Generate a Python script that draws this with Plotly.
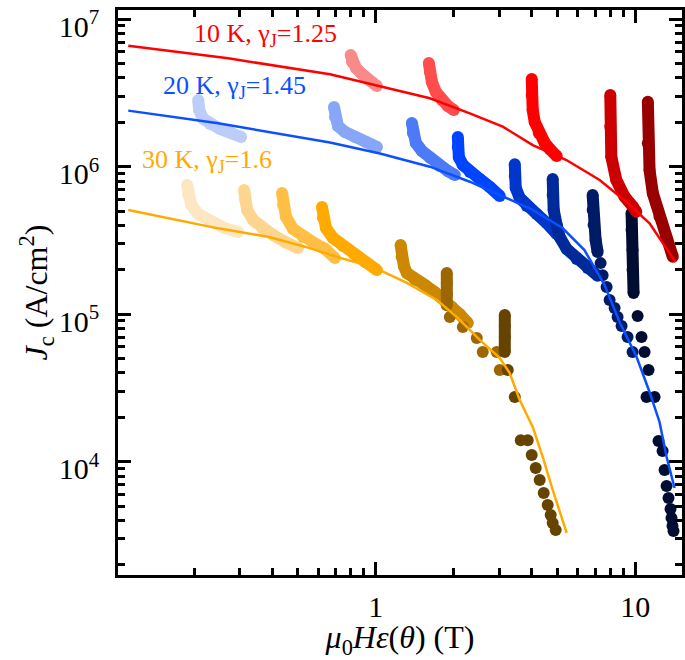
import plotly.graph_objects as go

# ---------------- fit curves ----------------
fit10_x = [0.1115, 0.2704, 0.667, 1.039, 1.618, 2.305, 3.087, 4.027, 5.43, 7.29, 9.23, 11.35, 12.73, 14.29]
fit10_y = [6.61e6, 5.43e6, 4.23e6, 3.49e6, 2.91e6, 2.30e6, 1.87e6, 1.40e6, 1.11e6, 8.12e5, 5.79e5, 4.13e5, 3.09e5, 2.26e5]

fit20_x = [0.1115, 0.2474, 0.667, 1.039, 1.618, 2.305, 3.007, 4.027, 5.245, 6.37, 7.61, 8.70, 10.12, 11.35, 12.40, 13.20, 14.17]
fit20_y = [2.40e6, 1.97e6, 1.46e6, 1.23e6, 1.00e6, 7.91e5, 6.43e5, 5.09e5, 3.84e5, 2.72e5, 1.58e5, 8.85e4, 5.13e4, 2.97e4, 1.86e4, 1.08e4, 6.63e3]

fit30_x = [0.1115, 0.2474, 0.3853, 0.5347, 0.7355, 0.9764, 1.319, 1.721, 2.073, 2.518, 3.007, 3.285, 3.589, 4.027, 4.401, 4.808, 5.443]
fit30_y = [5.09e5, 3.82e5, 3.35e5, 2.87e5, 2.40e5, 2.09e5, 1.63e5, 1.25e5, 9.42e4, 6.69e4, 5.05e4, 3.99e4, 2.62e4, 1.72e4, 1.08e4, 6.43e3, 3.29e3]

# ---------------- 10 K data ----------------
r1_x = [0.8014, 0.8107, 0.8398, 0.8859, 0.9423, 1.0116]
r1_y = [5.72e6, 5.13e6, 4.67e6, 4.25e6, 3.87e6, 3.52e6]
r2_x = [1.603, 1.618, 1.647, 1.706, 1.799, 1.897, 2.001]
r2_y = [5.05e6, 4.39e6, 3.75e6, 3.21e6, 2.83e6, 2.58e6, 2.42e6]
r3_x = [3.992, 3.992, 4.027, 4.100, 4.248, 4.479, 4.681, 4.981]
r3_y = [3.93e6, 3.06e6, 2.42e6, 2.01e6, 1.69e6, 1.45e6, 1.32e6, 1.18e6]
r4_x = [8.013, 8.013, 8.085, 8.45, 9.095, 9.79, 10.09]
r4_y = [3.06e6, 1.87e6, 1.17e6, 8.12e5, 6.26e5, 5.36e5, 4.95e5]
r5_x = [11.18, 11.18, 11.35, 11.69, 12.40, 13.16, 13.95]
r5_y = [2.76e6, 1.44e6, 9.50e5, 6.60e5, 4.58e5, 3.35e5, 2.45e5]

# ---------------- 20 K data ----------------
b1_x = [0.2073, 0.2091, 0.2167, 0.2305, 0.2519, 0.2777, 0.3034]
b1_y = [2.83e6, 2.42e6, 2.11e6, 1.95e6, 1.80e6, 1.69e6, 1.59e6]
b2_x = [0.6913, 0.6974, 0.7161, 0.7619, 0.8326, 0.9177, 1.0116]
b2_y = [2.54e6, 2.17e6, 1.89e6, 1.72e6, 1.59e6, 1.47e6, 1.36e6]
b3_x = [1.379, 1.391, 1.429, 1.507, 1.618, 1.767, 1.897, 2.018]
b3_y = [1.98e6, 1.69e6, 1.45e6, 1.28e6, 1.15e6, 1.01e6, 9.35e5, 8.78e5]
b4_x = [2.073, 2.073, 2.092, 2.167, 2.305, 2.518, 2.752, 3.007]
b4_y = [1.59e6, 1.36e6, 1.16e6, 1.03e6, 9.21e5, 8.25e5, 7.29e5, 6.33e5]
b5_x = [3.435, 3.435, 3.465, 3.589, 3.819, 4.173, 4.559, 4.981]
b5_y = [1.04e6, 8.65e5, 7.17e5, 6.14e5, 5.42e5, 4.78e5, 4.15e5, 3.50e5]
b6_x = [4.808, 4.808, 4.851, 4.981, 5.115, 5.443, 5.946, 6.553, 7.161]
b6_y = [8.25e5, 6.43e5, 5.09e5, 4.02e5, 3.34e5, 2.77e5, 2.37e5, 2.06e5, 1.82e5]
b7_x = [6.853, 6.853, 6.913, 7.036, 7.161]
b7_y = [6.43e5, 5.09e5, 4.02e5, 3.18e5, 2.64e5]
b7_dot_x = [7.353, 7.484, 7.755, 7.964, 8.325, 8.549, 8.858, 9.341, 9.763]
b7_dot_y = [2.22e5, 1.84e5, 1.53e5, 1.25e5, 1.10e5, 9.57e4, 8.32e4, 7.01e4, 5.54e4]
b8_x = [9.678, 9.678, 9.763, 9.763, 9.851]
b8_y = [4.85e5, 3.72e5, 2.72e5, 1.99e5, 1.39e5]
b8_dot_x = [10.21, 10.57, 10.86, 11.25, 11.05, 11.87, 12.29, 12.74, 12.97, 13.20, 13.43, 13.67, 13.79, 13.91, 14.04]
b8_dot_y = [9.72e4, 7.01e4, 5.54e4, 4.19e4, 2.75e4, 2.75e4, 1.38e4, 1.18e4, 8.78e3, 6.84e3, 5.67e3, 4.78e3, 4.15e3, 3.66e3, 3.39e3]

# ---------------- 30 K data ----------------
o1_x = [0.188, 0.1897, 0.1949, 0.2073, 0.2305, 0.2610, 0.2954]
o1_y = [7.51e5, 6.43e5, 5.50e5, 4.78e5, 4.28e5, 3.84e5, 3.61e5]
o2_x = [0.3115, 0.3143, 0.3199, 0.3374, 0.3653, 0.4027, 0.4478, 0.5026]
o2_y = [6.95e5, 5.95e5, 5.09e5, 4.35e5, 3.84e5, 3.44e5, 3.09e5, 2.81e5]
o3_x = [0.4362, 0.4401, 0.4519, 0.4808, 0.5253, 0.5790, 0.6383, 0.6974]
o3_y = [6.63e5, 5.50e5, 4.56e5, 3.78e5, 3.34e5, 3.04e5, 2.77e5, 2.40e5]
o4_x = [0.6216, 0.6271, 0.6439, 0.6851, 0.7485, 0.8251, 0.9096, 1.0116]
o4_y = [5.33e5, 4.49e5, 3.84e5, 3.29e5, 2.90e5, 2.56e5, 2.26e5, 1.99e5]
o5_x = [1.248, 1.259, 1.285, 1.319, 1.416, 1.548, 1.691, 1.831, 1.966, 2.110, 2.265]
o5_y = [2.95e5, 2.44e5, 2.12e5, 1.90e5, 1.71e5, 1.58e5, 1.41e5, 1.27e5, 1.12e5, 1.00e5, 8.71e4]
o6_x = [1.880, 1.880, 1.880, 1.880]
o6_y = [1.90e5, 1.63e5, 1.37e5, 1.15e5]
o6_dot_x = [1.931, 2.167, 2.452, 2.586, 2.927, 3.007]
o6_dot_y = [9.57e4, 8.19e4, 6.90e4, 5.54e4, 5.54e4, 4.19e4]
o7_x = [3.144, 3.144, 3.144, 3.144]
o7_y = [9.88e4, 8.32e4, 7.01e4, 5.54e4]
o7_dot_x = [3.228, 3.435, 3.622, 3.852, 3.992, 4.136, 4.284, 4.440, 4.599, 4.723, 4.808, 4.937]
o7_dot_y = [4.19e4, 2.75e4, 1.40e4, 1.40e4, 1.11e4, 9.06e3, 7.51e3, 6.13e3, 5.09e3, 4.35e3, 3.84e3, 3.44e3]

# tick labels
y_tickvals = [1e4, 1e5, 1e6, 1e7]
y_ticktext = ["10<sup>4</sup>", "10<sup>5</sup>", "10<sup>6</sup>", "10<sup>7</sup>"]
x_tickvals = [1, 10]
x_ticktext = ["1", "10"]

FONT = "Liberation Serif"
MS = 12

fig = go.Figure()


def seg(x, y, color):
    fig.add_trace(go.Scatter(x=x, y=y, mode="lines+markers",
                             line=dict(color=color, width=MS),
                             marker=dict(color=color, size=MS),
                             showlegend=False, hoverinfo="skip"))


def dots(x, y, color):
    fig.add_trace(go.Scatter(x=x, y=y, mode="markers",
                             marker=dict(color=color, size=MS),
                             showlegend=False, hoverinfo="skip"))


# 30 K
seg(o1_x, o1_y, "#fde6c2")
seg(o2_x, o2_y, "#fed58e")
seg(o3_x, o3_y, "#ffbf44")
seg(o4_x, o4_y, "#ffaa00")
seg(o5_x, o5_y, "#cc8800")
seg(o6_x, o6_y, "#9c6600")
dots(o6_dot_x, o6_dot_y, "#9c6600")
seg(o7_x, o7_y, "#664400")
dots(o7_dot_x, o7_dot_y, "#664400")

# 20 K
seg(b1_x, b1_y, "#bccdf8")
seg(b2_x, b2_y, "#88a6f6")
seg(b3_x, b3_y, "#4d7bf7")
seg(b4_x, b4_y, "#0044ff")
seg(b5_x, b5_y, "#0036cc")
seg(b6_x, b6_y, "#002a99")
seg(b7_x, b7_y, "#001b66")
dots(b7_dot_x, b7_dot_y, "#001b66")
seg(b8_x, b8_y, "#000d33")
dots(b8_dot_x, b8_dot_y, "#000d33")

# 10 K
seg(r1_x, r1_y, "#f98a8a")
seg(r2_x, r2_y, "#ff4d4d")
seg(r3_x, r3_y, "#ff0000")
seg(r4_x, r4_y, "#cc0000")
seg(r5_x, r5_y, "#990000")

# fit lines on top
for fx, fy, c in [(fit10_x, fit10_y, "#ff0000"), (fit20_x, fit20_y, "#0a50ff"), (fit30_x, fit30_y, "#ffaa00")]:
    fig.add_trace(go.Scatter(x=fx, y=fy, mode="lines", line=dict(color=c, width=2.5),
                             showlegend=False, hoverinfo="skip"))

minor_y = [m * 10 ** e for e in range(3, 7) for m in range(2, 10)]
minor_x = [m * 10 ** e for e in range(-1, 2) for m in range(2, 10)]

axis_common = dict(showline=True, linecolor="black", linewidth=2.5, mirror="ticks",
                   ticks="inside", ticklen=13, tickwidth=2.5, tickcolor="black",
                   showgrid=False, zeroline=False, automargin=False,
                   ticklabeloverflow="allow",
                   tickfont=dict(family=FONT, size=30, color="black"))

fig.update_xaxes(type="log", range=[-0.9923, 1.18], tickvals=x_tickvals, ticktext=x_ticktext,
                 minor=dict(tickvals=minor_x, ticks="inside", ticklen=7, tickwidth=2.5,
                            tickcolor="black", showgrid=False),
                 ticklabelstandoff=3,
                 title=dict(text="<i>μ</i><sub>0</sub><i>Hε</i>(<i>θ</i>) (T)",
                            font=dict(family=FONT, size=32, color="black"), standoff=3),
                 **axis_common)
fig.update_yaxes(type="log", range=[3.2319, 7.0624], tickvals=y_tickvals, ticktext=y_ticktext,
                 minor=dict(tickvals=minor_y, ticks="inside", ticklen=7, tickwidth=2.5,
                            tickcolor="black", showgrid=False),
                 ticklabelstandoff=10, ticklabelshift=7,
                 title=dict(text="<i>J</i><sub>c</sub> (A/cm<sup>2</sup>)",
                            font=dict(family=FONT, size=32, color="black"), standoff=0),
                 **axis_common)

ann_font = lambda c: dict(family=FONT, size=26, color=c)
fig.add_annotation(x=0.1307, y=0.955, xref="paper", yref="paper", xanchor="left", yanchor="middle",
                   text="10 K, γ<sub>J</sub>=1.25", showarrow=False, font=ann_font("#ff0000"))
fig.add_annotation(x=0.0762, y=0.8646, xref="paper", yref="paper", xanchor="left", yanchor="middle",
                   text="20 K, γ<sub>J</sub>=1.45", showarrow=False, font=ann_font("#0a50ff"))
fig.add_annotation(x=0.0385, y=0.7331, xref="paper", yref="paper", xanchor="left", yanchor="middle",
                   text="30 K, γ<sub>J</sub>=1.6", showarrow=False, font=ann_font("#ffaa00"))

fig.update_layout(width=685, height=660, margin=dict(l=118, r=3, t=10, b=85),
                  plot_bgcolor="white", paper_bgcolor="white", showlegend=False)

# remove the page's default 8px body margin so the figure fills the window exactly
fig.write_html("out.html", config={"displayModeBar": False},
               post_script="document.body.style.margin = '0px';")
